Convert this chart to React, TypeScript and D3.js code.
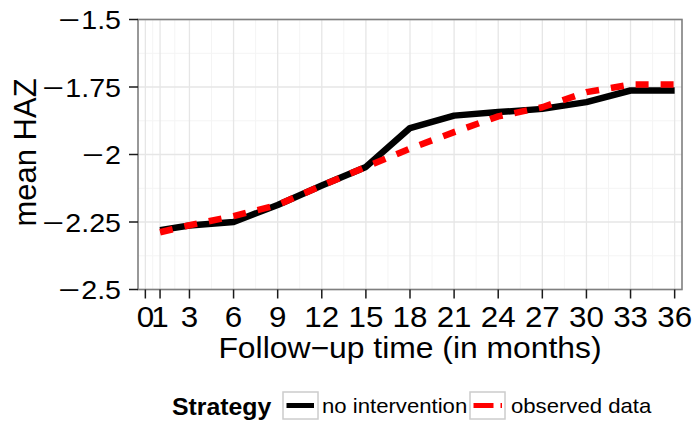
import React from "react";
import * as d3 from "d3";

const months = [1, 3, 6, 9, 12, 15, 18, 21, 24, 27, 30, 33, 36];
const noIntervention = [-2.28, -2.263, -2.25, -2.187, -2.115, -2.046, -1.902, -1.856, -1.843, -1.831, -1.806, -1.763, -1.763];
const observedData = [-2.288, -2.262, -2.228, -2.187, -2.115, -2.046, -1.978, -1.917, -1.859, -1.825, -1.769, -1.741, -1.741];

const xTicks = [0, 1, 3, 6, 9, 12, 15, 18, 21, 24, 27, 30, 33, 36];
const yTicks = [-2.5, -2.25, -2, -1.75, -1.5];
const yTickDigits = ["2.5", "2.25", "2", "1.75", "1.5"];
const xTitle = "Follow−up time (in months)";
const yTitle = "mean HAZ";
const legendTitle = "Strategy";
const seriesLabels = ["no intervention", "observed data"];

const W = 694;
const H = 430;
const panel = { left: 138, right: 682, top: 19.5, bottom: 289.5 };
const FONT = "'Liberation Sans', Arial, Helvetica, sans-serif";
const SX = 1.08; // horizontal widening of the type

// Arial advance widths (em) for the characters used in numeric labels
const advance: Record<string, number> = { ".": 0.278 };
"0123456789".split("").forEach((c) => (advance[c] = 0.556));
const textWidth = (s: string, size: number) =>
  s.split("").reduce((acc, c) => acc + (advance[c] ?? 0.556), 0) * size;

type WideTextProps = {
  x: number;
  y: number;
  size: number;
  anchor?: "start" | "middle" | "end";
  weight?: string;
  sx?: number;
  children: React.ReactNode;
};

function WideText({ x, y, size, anchor = "start", weight = "normal", sx = SX, children }: WideTextProps) {
  return (
    <text
      transform={`translate(${x},${y}) scale(${sx},1)`}
      textAnchor={anchor}
      fontFamily={FONT}
      fontSize={size}
      fontWeight={weight}
      fill="#000"
    >
      {children}
    </text>
  );
}

export default function App() {
  const x = d3.scaleLinear().domain([-0.5, 36.5]).range([panel.left, panel.right]);
  const y = d3.scaleLinear().domain([-2.5, -1.5]).range([panel.bottom, panel.top]);

  // minor breaks sit midway between consecutive major breaks
  const xMinor = xTicks.slice(1).map((t, i) => (t + xTicks[i]) / 2);
  const yMinor = yTicks.slice(1).map((t, i) => (t + yTicks[i]) / 2);

  const line = d3
    .line<[number, number]>()
    .x((d) => x(d[0]))
    .y((d) => y(d[1]));

  const blackPath = line(months.map((m, i) => [m, noIntervention[i]]))!;
  const redPath = line(months.map((m, i) => [m, observedData[i]]))!;

  const tickLen = 9;
  const xTickSize = 29;
  const yTickSize = 26.5;
  const yLabelRight = 121;
  const keyY = 392;
  const keyH = 27;
  const keyW = 35;
  const key1X = 283;
  const key2X = 470;

  return (
    <svg width={W} height={H} style={{ display: "block", position: "absolute", left: 0, top: 0 }}>
      <rect x={0} y={0} width={W} height={H} fill="#ffffff" />
      {/* grid */}
      <g>
        {xMinor.map((t) => (
          <line key={"xm" + t} x1={x(t)} x2={x(t)} y1={panel.top} y2={panel.bottom} stroke="#f4f4f4" strokeWidth={1} />
        ))}
        {yMinor.map((t) => (
          <line key={"ym" + t} x1={panel.left} x2={panel.right} y1={y(t)} y2={y(t)} stroke="#f4f4f4" strokeWidth={1} />
        ))}
        {xTicks.map((t) => (
          <line key={"xM" + t} x1={x(t)} x2={x(t)} y1={panel.top} y2={panel.bottom} stroke="#e6e6e6" strokeWidth={1.3} />
        ))}
        {yTicks.map((t) => (
          <line key={"yM" + t} x1={panel.left} x2={panel.right} y1={y(t)} y2={y(t)} stroke="#e6e6e6" strokeWidth={1.3} />
        ))}
      </g>
      {/* series */}
      <path d={blackPath} fill="none" stroke="#000000" strokeWidth={6.5} strokeLinejoin="round" />
      <path d={redPath} fill="none" stroke="#ff0000" strokeWidth={6.5} strokeDasharray="13,12" strokeLinejoin="round" />
      {/* panel border */}
      <rect
        x={panel.left}
        y={panel.top}
        width={panel.right - panel.left}
        height={panel.bottom - panel.top}
        fill="none"
        stroke="#7f7f7f"
        strokeWidth={1.6}
      />
      {/* x axis */}
      <g>
        {xTicks.map((t) => (
          <g key={"xt" + t}>
            <line x1={x(t)} x2={x(t)} y1={panel.bottom} y2={panel.bottom + tickLen} stroke="#1a1a1a" strokeWidth={1.5} />
            <WideText x={x(t)} y={327} size={xTickSize} anchor="middle">
              {String(t)}
            </WideText>
          </g>
        ))}
        <WideText x={(panel.left + panel.right) / 2} y={357.5} size={29.5} anchor="middle">
          {xTitle}
        </WideText>
      </g>
      {/* y axis */}
      <g>
        {yTicks.map((t, i) => {
          const digitsStart = yLabelRight - textWidth(yTickDigits[i], yTickSize) * SX;
          return (
            <g key={"yt" + t}>
              <line x1={panel.left - tickLen} x2={panel.left} y1={y(t)} y2={y(t)} stroke="#1a1a1a" strokeWidth={1.5} />
              <WideText x={digitsStart - 12} y={y(t) + 9.6} size={yTickSize} anchor="middle" sx={1.4}>
                −
              </WideText>
              <WideText x={yLabelRight} y={y(t) + 9.6} size={yTickSize} anchor="end">
                {yTickDigits[i]}
              </WideText>
            </g>
          );
        })}
        <text
          transform={`translate(36,${(panel.top + panel.bottom) / 2 - 2}) rotate(-90)`}
          textAnchor="middle"
          fontFamily={FONT}
          fontSize={31}
          fill="#000"
        >
          {yTitle}
        </text>
      </g>
      {/* legend */}
      <g>
        <WideText x={172} y={415} size={23} weight="bold">
          {legendTitle}
        </WideText>
        <rect x={key1X} y={keyY} width={keyW} height={keyH} fill="#ffffff" stroke="#cccccc" strokeWidth={1.5} />
        <line x1={key1X + 3.5} x2={key1X + 31} y1={keyY + keyH / 2} y2={keyY + keyH / 2} stroke="#000" strokeWidth={5} />
        <WideText x={322} y={413} size={20.5}>
          {seriesLabels[0]}
        </WideText>
        <rect x={key2X} y={keyY} width={keyW} height={keyH} fill="#ffffff" stroke="#cccccc" strokeWidth={1.5} />
        <line
          x1={key2X + 3.5}
          x2={key2X + 32}
          y1={keyY + keyH / 2}
          y2={keyY + keyH / 2}
          stroke="#ff0000"
          strokeWidth={5}
          strokeDasharray="20,7"
        />
        <WideText x={511} y={413} size={20.5}>
          {seriesLabels[1]}
        </WideText>
      </g>
    </svg>
  );
}
